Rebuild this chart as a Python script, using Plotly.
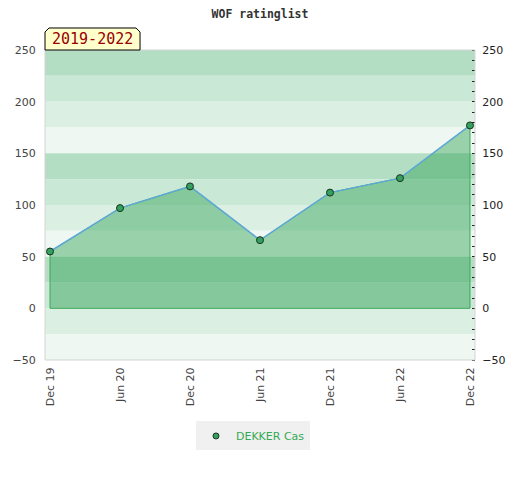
import plotly.graph_objects as go

categories = ["Dec 19", "Jun 20", "Dec 20", "Jun 21", "Dec 21", "Jun 22", "Dec 22"]
ratings = [55, 97, 118, 66, 112, 126, 177]
series_name = "DEKKER Cas"
period_label = "2019-2022"
chart_title = "WOF ratinglist"

x_pos = list(range(len(categories)))
y_min, y_max = -50, 250
band_colors = ["#b3dec3", "#c9e8d5", "#dcefe3", "#eef7f1"]

fig = go.Figure()

# filled area
fig.add_trace(go.Scatter(
    x=[x_pos[0]] + x_pos + [x_pos[-1], x_pos[0]],
    y=[0] + ratings + [0, 0],
    mode="lines", fill="toself",
    fillcolor="rgba(51,164,87,0.46)",
    line=dict(color="#3aaa5a", width=1),
    hoverinfo="skip", showlegend=False,
))
# line with markers
fig.add_trace(go.Scatter(
    x=x_pos, y=ratings, mode="lines+markers", name=series_name,
    line=dict(color="#5fa8d8", width=1.5),
    marker=dict(color="#33a060", size=7, line=dict(color="#1a3320", width=1)),
    showlegend=False,
))
# legend entry (marker only)
fig.add_trace(go.Scatter(
    x=[None], y=[None], mode="markers", name=series_name,
    marker=dict(color="#33a060", size=6, line=dict(color="#1a3320", width=1)),
    showlegend=True,
))
# right axis dummy
fig.add_trace(go.Scatter(x=[None], y=[None], yaxis="y2", showlegend=False))

shapes = []
n_bands = (y_max - y_min) // 25
for i in range(n_bands):
    top = y_max - 25 * i
    shapes.append(dict(type="rect", xref="paper", yref="y", x0=0, x1=1,
                       y0=top - 25, y1=top, fillcolor=band_colors[i % 4],
                       line=dict(width=0), layer="below"))
shapes.append(dict(type="rect", xref="paper", yref="paper", x0=0, x1=1, y0=0, y1=1,
                   line=dict(color="#d4d4d4", width=1), fillcolor="rgba(0,0,0,0)"))
# label box with chamfered top corners
shapes.append(dict(type="path", xref="paper", yref="paper",
                   path="M 0,1 L 0,1.058 L 0.0093,1.071 L 0.2116,1.071 L 0.221,1.058 L 0.221,1 Z",
                   fillcolor="#ffffcc", line=dict(color="black", width=1)))

axis_font = dict(family="DejaVu Sans", size=11, color="#444")
xr = [x_pos[0] - 0.0716, x_pos[-1] + 0.0716]

fig.update_layout(
    width=512, height=472,
    margin=dict(l=37, r=45, t=42, b=120, autoexpand=False),
    paper_bgcolor="white", plot_bgcolor="rgba(0,0,0,0)",
    title=dict(text="<b>" + chart_title + "</b>", x=(260 - 8) / 512, xanchor="center",
               xref="container", yref="container", y=1 - 2 / 472, yanchor="top",
               pad=dict(t=0, b=0, l=0, r=0),
               font=dict(family="DejaVu Sans Mono", size=11.5, color="#333")),
    xaxis=dict(range=xr, tickvals=x_pos, ticktext=categories, tickangle=-90,
               showgrid=False, zeroline=False, showline=False, automargin=False,
               ticks="outside", ticklen=2, tickcolor="rgba(0,0,0,0)",
               tickfont=axis_font, fixedrange=True),
    yaxis=dict(range=[y_min, y_max], dtick=50, showgrid=False, zeroline=False,
               showline=False, ticks="outside", ticklen=6, tickcolor="rgba(0,0,0,0)",
               tickfont=axis_font, automargin=False),
    yaxis2=dict(range=[y_min, y_max], dtick=50, overlaying="y", side="right",
                showgrid=False, zeroline=False, showline=False, automargin=False,
                ticks="outside", ticklen=4, tickcolor="rgba(0,0,0,0)",
                tickfont=dict(family="DejaVu Sans", size=11, color="#222"),
                minor=dict(dtick=10, ticks="inside", ticklen=3, tickcolor="#222",
                           showgrid=False)),
    legend=dict(orientation="h", x=0.4837, xanchor="center", y=-0.245, yanchor="middle",
                bgcolor="#f0f0f0", font=dict(family="DejaVu Sans", size=11, color="#33aa55"),
                itemwidth=30, tracegroupgap=0),
    shapes=shapes,
    annotations=[dict(text=period_label, xref="paper", yref="paper", x=0.1105, y=1.036,
                      showarrow=False, xanchor="center", yanchor="middle",
                      font=dict(family="DejaVu Sans Mono", size=15, color="#990000"))],
)

fig.write_html("out.html")
